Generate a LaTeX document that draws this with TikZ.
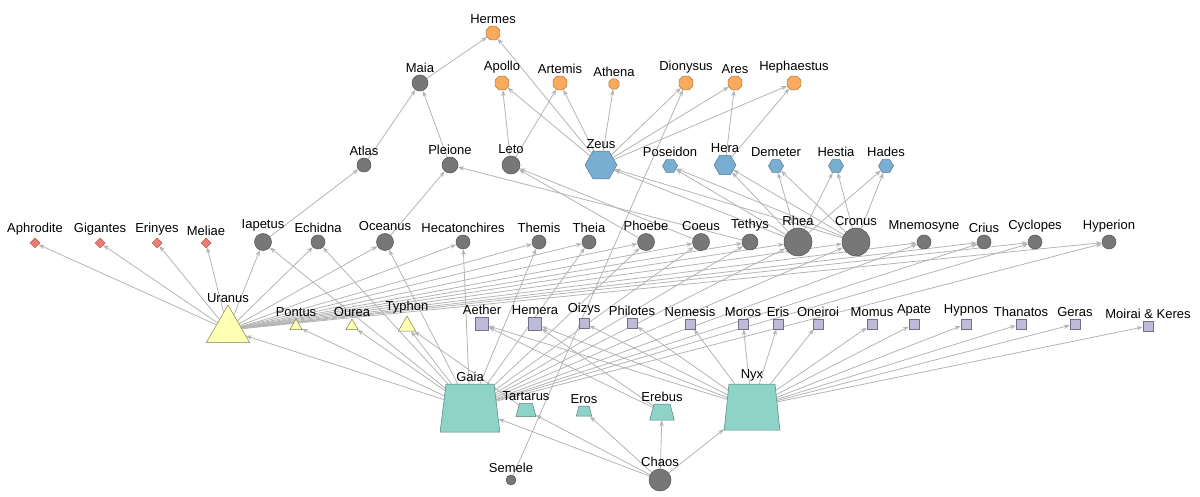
\documentclass[tikz,border=0pt]{standalone}
\usepackage{fontspec}
\setmainfont{Liberation Sans}
\usetikzlibrary{shapes.geometric,backgrounds,arrows.meta}
\definecolor{gr}{HTML}{777777}
\definecolor{orn}{HTML}{F9AA5C}
\definecolor{blu}{HTML}{79AED3}
\definecolor{yel}{HTML}{FFFFB3}
\definecolor{tea}{HTML}{8DD3C7}
\definecolor{lav}{HTML}{BEBADA}
\definecolor{red}{HTML}{F27B72}
\definecolor{edg}{HTML}{B4B4B4}
\tikzset{
 every label/.style={font=\fontsize{13}{15}\selectfont,inner sep=1pt},
 base/.style={draw, line width=0.5pt, inner sep=0pt, label={[label distance=1pt]above:#1}},
 tit/.style={base=#1, circle, fill=gr, draw=gr!70!black},
 oct/.style={base=#1, regular polygon, regular polygon sides=8, fill=orn, draw=orn!70!black},
 hex/.style={base=#1, regular polygon, regular polygon sides=6, fill=blu, draw=blu!70!black},
 tri/.style={base=#1, regular polygon, regular polygon sides=3, fill=yel, draw=yel!50!black},
 trap/.style={base=#1, trapezium, inner sep=1pt, fill=tea, draw=tea!60!black},
 sq/.style={base=#1, rectangle, fill=lav, draw=lav!60!black},
 dia/.style={base=#1, diamond, fill=red, draw=red!70!black},
 e/.style={draw=edg, line width=0.8pt, -{Stealth[length=6pt,width=4.5pt]}},
}
\begin{document}
\begin{tikzpicture}[x=1pt,y=-1pt]
\useasboundingbox (0,0) rectangle (1200,497);
% top
\node[oct=Hermes, minimum size=15pt] (Hermes) at (493,33) {};
\node[tit=Maia, minimum size=16pt] (Maia) at (420,83) {};
\node[oct=Apollo, minimum size=15pt] (Apollo) at (502,83) {};
\node[oct=Artemis, minimum size=15pt] (Artemis) at (560,83) {};
\node[oct=Athena, minimum size=11pt] (Athena) at (614,84) {};
\node[oct=Dionysus, minimum size=15pt] (Dionysus) at (686,83) {};
\node[oct=Ares, minimum size=15pt] (Ares) at (735,83) {};
\node[oct=Hephaestus, minimum size=15pt] (Hephaestus) at (794,83) {};
% middle
\node[tit=Atlas, minimum size=14pt] (Atlas) at (364,165) {};
\node[tit=Pleione, minimum size=16pt] (Pleione) at (450,165) {};
\node[tit=Leto, minimum size=18pt] (Leto) at (511,165) {};
\node[hex=Zeus, minimum size=32pt] (Zeus) at (601,165) {};
\node[hex=Poseidon, minimum size=15pt] (Poseidon) at (670,166) {};
\node[hex=Hera, minimum size=22pt] (Hera) at (725,165) {};
\node[hex=Demeter, minimum size=15pt] (Demeter) at (776,166) {};
\node[hex=Hestia, minimum size=15pt] (Hestia) at (836,166) {};
\node[hex=Hades, minimum size=15pt] (Hades) at (886,166) {};
% titans row
\node[dia=Aphrodite, minimum size=10pt] (Aphrodite) at (35,243) {};
\node[dia=Gigantes, minimum size=10pt] (Gigantes) at (100,243) {};
\node[dia=Erinyes, minimum size=10pt] (Erinyes) at (157,243) {};
\node[dia=Meliae, minimum size=10pt] (Meliae) at (206,243) {};
\node[tit=Iapetus, minimum size=17pt] (Iapetus) at (263,242) {};
\node[tit=Echidna, minimum size=14pt] (Echidna) at (318,242) {};
\node[tit=Oceanus, minimum size=17pt] (Oceanus) at (385,242) {};
\node[tit=Hecatonchires, minimum size=14pt] (Hecatonchires) at (463,242) {};
\node[tit=Themis, minimum size=14pt] (Themis) at (539,242) {};
\node[tit=Theia, minimum size=14pt] (Theia) at (589,242) {};
\node[tit=Phoebe, minimum size=17pt] (Phoebe) at (646,242) {};
\node[tit=Coeus, minimum size=17pt] (Coeus) at (701,242) {};
\node[tit=Tethys, minimum size=16pt] (Tethys) at (750,242) {};
\node[tit=Rhea, minimum size=28pt] (Rhea) at (798,242) {};
\node[tit=Cronus, minimum size=28pt] (Cronus) at (856,242) {};
\node[tit=Mnemosyne, minimum size=14pt] (Mnemosyne) at (924,242) {};
\node[tit=Crius, minimum size=14pt] (Crius) at (984,242) {};
\node[tit=Cyclopes, minimum size=14pt] (Cyclopes) at (1035,242) {};
\node[tit=Hyperion, minimum size=14pt] (Hyperion) at (1109,242) {};
% lower
\node[tri=Uranus, minimum size=50pt] (Uranus) at (228,330) {};
\node[tri=Pontus, minimum size=14pt] (Pontus) at (296,326) {};
\node[tri=Ourea, minimum size=14pt] (Ourea) at (352,326) {};
\node[tri=Typhon, minimum size=20pt] (Typhon) at (407,326) {};
\node[sq=Aether, minimum size=13pt] (Aether) at (482,324) {};
\node[sq=Hemera, minimum size=13pt] (Hemera) at (535,324) {};
\node[sq=Oizys, minimum size=10pt] (Oizys) at (584,323) {};
\node[sq=Philotes, minimum size=10pt] (Philotes) at (632,323) {};
\node[sq=Nemesis, minimum size=10pt] (Nemesis) at (690,324) {};
\node[sq=Moros, minimum size=10pt] (Moros) at (743,324) {};
\node[sq=Eris, minimum size=10pt] (Eris) at (778,324) {};
\node[sq=Oneiroi, minimum size=10pt] (Oneiroi) at (818,324) {};
\node[sq=Momus, minimum size=10pt] (Momus) at (872,324) {};
\node[sq=Apate, minimum size=10pt] (Apate) at (914,324) {};
\node[sq=Hypnos, minimum size=10pt] (Hypnos) at (966,324) {};
\node[sq=Thanatos, minimum size=10pt] (Thanatos) at (1021,324) {};
\node[sq=Geras, minimum size=10pt] (Geras) at (1075,324) {};
\node[sq={Moirai \& Keres}, minimum size=10pt] (MoiraiKeres) at (1148,326) {};
\node[trap=Gaia, minimum height=48pt, minimum width=42pt, trapezium angle=83] (Gaia) at (470,408) {};
\node[trap=Tartarus, minimum height=13pt, minimum width=13pt, trapezium angle=75] (Tartarus) at (526,410) {};
\node[trap=Eros, minimum height=10pt, minimum width=10pt, trapezium angle=75] (Eros) at (584,411) {};
\node[trap=Erebus, minimum height=16pt, minimum width=16pt, trapezium angle=75] (Erebus) at (662,412) {};
\node[trap=Nyx, minimum height=46pt, minimum width=38pt, trapezium angle=84] (Nyx) at (752,407) {};
\node[tit=Chaos, minimum size=22pt] (Chaos) at (660,480) {};
\node[tit=Semele, minimum size=10pt] (Semele) at (511,480) {};
\begin{scope}[on background layer]
\foreach \t in {Aphrodite,Gigantes,Erinyes,Meliae,Iapetus,Echidna,Oceanus,Hecatonchires,Themis,Theia,Phoebe,Coeus,Tethys,Rhea,Cronus,Mnemosyne,Crius,Cyclopes,Hyperion}
  \draw[e] (Uranus) -- (\t);
\foreach \t in {Uranus,Pontus,Ourea,Typhon,Iapetus,Echidna,Oceanus,Hecatonchires,Themis,Theia,Phoebe,Coeus,Tethys,Rhea,Cronus,Mnemosyne,Crius,Cyclopes,Hyperion}
  \draw[e] (Gaia) -- (\t);
\foreach \t in {Aether,Hemera,Oizys,Philotes,Nemesis,Moros,Eris,Oneiroi,Momus,Apate,Hypnos,Thanatos,Geras,MoiraiKeres}
  \draw[e] (Nyx) -- (\t);
\foreach \t in {Gaia,Tartarus,Eros,Erebus,Nyx}
  \draw[e] (Chaos) -- (\t);
\foreach \t in {Zeus,Poseidon,Hera,Demeter,Hestia,Hades}
  {\draw[e] (Rhea) -- (\t); \draw[e] (Cronus) -- (\t);}
\foreach \t in {Hermes,Apollo,Artemis,Athena,Dionysus,Ares,Hephaestus}
  \draw[e] (Zeus) -- (\t);
\foreach \s/\t in {Tartarus/Typhon,Erebus/Aether,Erebus/Hemera,Semele/Dionysus,Hera/Ares,Hera/Hephaestus,Maia/Hermes,Leto/Apollo,Leto/Artemis,Atlas/Maia,Pleione/Maia,Iapetus/Atlas,Oceanus/Pleione,Tethys/Pleione,Phoebe/Leto,Coeus/Leto}
  \draw[e] (\s) -- (\t);
\end{scope}
\end{tikzpicture}
\end{document}
